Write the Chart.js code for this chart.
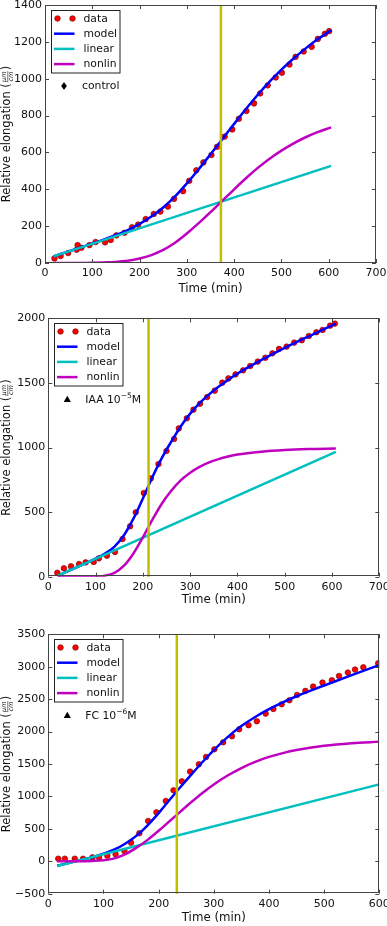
<!DOCTYPE html>
<html>
<head>
<meta charset="utf-8">
<script src="https://cdn.jsdelivr.net/npm/chart.js@4.4.1/dist/chart.umd.min.js"></script>
<style>
  body { margin: 0; background: #fff; }
  canvas { position: absolute; left: 0; }
</style>
</head>
<body>
<canvas id="chartControl" width="387" height="305" style="top:0px"></canvas>
<canvas id="chartIaa" width="387" height="310" style="top:305px"></canvas>
<canvas id="chartFc" width="387" height="311" style="top:615px"></canvas>
<script>
// ---- control ----
const controlTime = [20, 33, 49, 67, 69, 77, 94, 107, 127, 139, 151, 168, 184, 197, 213, 230, 244, 260, 273, 292,
  305, 320, 335, 352, 364, 380, 396, 410, 426, 442, 455, 471, 488, 501, 517, 530, 547, 564, 577, 592, 601];
const controlData = [25, 38, 54, 72, 97, 83, 97, 114, 112, 125, 150, 164, 194, 208, 238, 266, 279, 306, 348, 390,
  446, 503, 546, 586, 631, 686, 725, 783, 825, 866, 920, 964, 1007, 1032, 1077, 1119, 1148, 1173, 1216, 1244, 1258];
const controlCurveTime = [18, 50, 75, 100, 125, 150, 175, 200, 225, 250, 275, 300, 325, 350, 375, 400, 425, 450,
  475, 500, 525, 550, 575, 605];
const controlModel = [36, 63, 84, 106, 128, 152, 179, 212, 252, 301, 361, 432, 509, 590, 672, 755, 836, 913,
  984, 1049, 1108, 1162, 1211, 1263];
const controlNonlin = [0, 0, 0, 1, 3, 6, 12, 24, 43, 71, 110, 160, 216, 276, 338, 400, 460, 516,
  566, 610, 648, 681, 709, 736];
const controlLinearTime = [18, 605];
const controlLinear = [36, 527];
const controlMarkTime = 372;

// ---- IAA ----
const iaaTime = [19, 33, 48, 65, 79, 96, 107, 124, 141, 157, 173, 185, 202, 217, 233, 250, 266, 276, 293, 307,
  321, 336, 352, 368, 381, 396, 412, 427, 443, 459, 474, 488, 504, 520, 536, 551, 567, 580, 596, 606];
const iaaData = [31, 65, 80, 98, 111, 114, 142, 163, 191, 292, 390, 498, 648, 761, 872, 973, 1066, 1148, 1226, 1293,
  1339, 1391, 1440, 1502, 1535, 1566, 1597, 1631, 1665, 1695, 1729, 1763, 1781, 1812, 1830, 1863, 1892, 1910, 1943, 1959];
const iaaCurveTime = [20, 60, 100, 120, 140, 160, 180, 200, 220, 240, 260, 280, 300, 320, 340, 360, 380, 400,
  450, 500, 550, 608];
const iaaModel = [8, 73, 140, 179, 233, 321, 449, 606, 770, 918, 1045, 1163, 1262, 1343, 1411, 1470, 1523, 1572,
  1676, 1771, 1859, 1958];
const iaaNonlin = [0, 0, 2, 8, 30, 85, 180, 305, 440, 565, 665, 745, 805, 850, 885, 910, 930, 946,
  968, 981, 988, 992];
const iaaLinearTime = [20, 608];
const iaaLinear = [8, 966];
const iaaMarkTime = 212;

// ---- FC ----
const fcTime = [18, 30, 48, 63, 80, 92, 107, 122, 138, 150, 165, 181, 196, 213, 227, 242, 257, 273, 286, 301,
  317, 333, 346, 363, 378, 394, 408, 423, 437, 451, 466, 480, 497, 514, 527, 543, 556, 571, 598];
const fcData = [40, 40, 40, 40, 60, 60, 86, 107, 158, 287, 431, 621, 755, 930, 1095, 1234, 1383, 1496, 1609, 1727,
  1835, 1928, 2036, 2098, 2159, 2277, 2349, 2421, 2483, 2565, 2627, 2694, 2756, 2792, 2858, 2910, 2956, 2992, 3054];
const fcCurveTime = [16, 40, 65, 80, 100, 120, 140, 160, 180, 200, 220, 240, 260, 280, 300, 325, 350, 375, 400,
  425, 450, 500, 550, 600];
const fcModel = [-70, -20, 30, 62, 118, 182, 275, 395, 555, 742, 948, 1150, 1345, 1535, 1715, 1915, 2085, 2225, 2345,
  2450, 2545, 2710, 2870, 3025];
const fcNonlin = [0, 0, 2, 5, 15, 45, 110, 210, 330, 470, 620, 770, 918, 1058, 1185, 1322, 1438, 1533, 1609,
  1668, 1715, 1780, 1820, 1845];
const fcLinearTime = [16, 600];
const fcLinear = [-73, 1186];
const fcMarkTime = 233;

const FONT = 'DejaVu Sans';
const TEXT_COLOR = '#111';

function pairs(xs, ys) {
  return xs.map((x, i) => ({ x: x, y: ys[i] }));
}

// draw a text made of parts, some of them superscript
function drawRich(ctx, parts, x, y, size) {
  let cx = x;
  parts.forEach(p => {
    if (p.sup) {
      ctx.font = (size * 0.7) + 'px "' + FONT + '"';
      ctx.fillText(p.t, cx, y - size * 0.38);
    } else {
      ctx.font = size + 'px "' + FONT + '"';
      ctx.fillText(p.t, cx, y);
    }
    cx += ctx.measureText(p.t).width;
  });
}

// frame, inward ticks, yellow marker line, legends and y title
const decorPlugin = {
  id: 'decor',
  afterDatasetsDraw(chart, args, opts) {
    const ctx = chart.ctx;
    const a = chart.chartArea;
    const xs = chart.scales.x, ys = chart.scales.y;
    ctx.save();

    // vertical marker
    const mx = xs.getPixelForValue(opts.markTime);
    ctx.strokeStyle = '#bfbf00';
    ctx.lineWidth = 2.5;
    ctx.beginPath();
    ctx.moveTo(mx, a.top);
    ctx.lineTo(mx, a.bottom);
    ctx.stroke();

    // frame
    ctx.strokeStyle = '#444';
    ctx.lineWidth = 1;
    ctx.strokeRect(Math.round(a.left) + 0.5, Math.round(a.top) + 0.5,
      Math.round(a.right - a.left) - 1, Math.round(a.bottom - a.top) - 1);

    // ticks pointing inwards on all sides
    const tl = 4;
    ctx.beginPath();
    xs.ticks.forEach(t => {
      const px = Math.round(xs.getPixelForValue(t.value)) + 0.5;
      ctx.moveTo(px, a.bottom); ctx.lineTo(px, a.bottom - tl);
      ctx.moveTo(px, a.top); ctx.lineTo(px, a.top + tl);
    });
    ys.ticks.forEach(t => {
      const py = Math.round(ys.getPixelForValue(t.value)) + 0.5;
      ctx.moveTo(a.left, py); ctx.lineTo(a.left + tl, py);
      ctx.moveTo(a.right, py); ctx.lineTo(a.right - tl, py);
    });
    ctx.stroke();

    // legend box
    const bx = Math.round(a.left + 5.5) + 0.5, by = Math.round(a.top + 5) + 0.5;
    ctx.fillStyle = '#fff';
    ctx.fillRect(bx, by, 68.5, 62.5);
    ctx.strokeStyle = '#222';
    ctx.lineWidth = 1;
    ctx.strokeRect(bx, by, 68.5, 62.5);
    ctx.textBaseline = 'middle';
    ctx.textAlign = 'left';
    chart.data.datasets.forEach((ds, i) => {
      const cy = by + 8 + i * 15.2;
      if (ds.showLine) {
        ctx.strokeStyle = ds.borderColor;
        ctx.lineWidth = 2.5;
        ctx.beginPath();
        ctx.moveTo(bx + 2.5, cy);
        ctx.lineTo(bx + 23, cy);
        ctx.stroke();
      } else {
        ctx.fillStyle = ds.backgroundColor;
        ctx.strokeStyle = ds.borderColor;
        ctx.lineWidth = 0.6;
        [bx + 6, bx + 21].forEach(px => {
          ctx.beginPath();
          ctx.arc(px, cy, 2.8, 0, Math.PI * 2);
          ctx.fill();
          ctx.stroke();
        });
      }
      ctx.fillStyle = TEXT_COLOR;
      ctx.font = '10.8px "' + FONT + '"';
      ctx.fillText(ds.label, bx + 32, cy + 0.5);
    });

    // treatment label with its marker
    const tx = a.left + 19, ty = a.top + 81;
    ctx.fillStyle = '#000';
    ctx.beginPath();
    if (opts.marker === 'diamond') {
      ctx.moveTo(tx, ty - 4); ctx.lineTo(tx + 2.8, ty); ctx.lineTo(tx, ty + 4); ctx.lineTo(tx - 2.8, ty);
    } else {
      ctx.moveTo(tx, ty - 3.6); ctx.lineTo(tx + 3.6, ty + 2.8); ctx.lineTo(tx - 3.6, ty + 2.8);
    }
    ctx.closePath();
    ctx.fill();
    ctx.fillStyle = TEXT_COLOR;
    drawRich(ctx, opts.labelParts, a.left + 37, ty + 0.5, 10.8);

    // y title with fraction
    const cyT = (a.top + a.bottom) / 2;
    ctx.translate(7.5, cyT);
    ctx.rotate(-Math.PI / 2);
    ctx.textBaseline = 'middle';
    const main = 'Relative elongation ';
    ctx.font = '11.5px "' + FONT + '"';
    const wMain = ctx.measureText(main).width;
    const wPar = ctx.measureText('(').width;
    const fracW = 11;
    const total = wMain + wPar * 2 + fracW + 2;
    let x0 = -total / 2;
    ctx.fillText(main, x0, 0);
    x0 += wMain;
    ctx.fillText('(', x0, 0);
    x0 += wPar + 1;
    ctx.font = 'italic 6.5px "' + FONT + '"';
    ctx.textAlign = 'center';
    ctx.fillText('\u03bcm', x0 + fracW / 2, -3.6);
    ctx.fillText('cm', x0 + fracW / 2, 4.0);
    ctx.lineWidth = 0.6;
    ctx.strokeStyle = TEXT_COLOR;
    ctx.beginPath();
    ctx.moveTo(x0, 0.3);
    ctx.lineTo(x0 + fracW, 0.3);
    ctx.stroke();
    ctx.textAlign = 'left';
    ctx.font = '11.5px "' + FONT + '"';
    ctx.fillText(')', x0 + fracW + 1, 0);
    ctx.restore();
  }
};

function makeChart(id, cfg) {
  const canvas = document.getElementById(id);
  const titleLine = 11.8 * 1.2;
  const padBottom = canvas.height - cfg.titleCenter - titleLine / 2;
  const xHeight = canvas.height - padBottom - cfg.bottom;
  const tickFont = { family: FONT, size: 11 };
  return new Chart(canvas, {
    type: 'scatter',
    data: {
      datasets: [
        { label: 'data', data: pairs(cfg.time, cfg.data), showLine: false, pointRadius: 2.8,
          pointHoverRadius: 2.8, backgroundColor: '#ff0000', borderColor: '#6a0000', borderWidth: 0.6, order: 3 },
        { label: 'model', data: pairs(cfg.curveTime, cfg.model), showLine: true, fill: false,
          borderColor: '#0000ff', borderWidth: 2.5, pointRadius: 0, cubicInterpolationMode: 'monotone', order: 2 },
        { label: 'linear', data: pairs(cfg.linearTime, cfg.linear), showLine: true, fill: false,
          borderColor: '#00bfbf', borderWidth: 2.5, pointRadius: 0, order: 1 },
        { label: 'nonlin', data: pairs(cfg.curveTime, cfg.nonlin), showLine: true, fill: false,
          borderColor: '#bf00bf', borderWidth: 2.5, pointRadius: 0, cubicInterpolationMode: 'monotone', order: 0 }
      ]
    },
    options: {
      responsive: false,
      animation: false,
      devicePixelRatio: 1,
      layout: { padding: { top: cfg.top, right: cfg.rightPad, bottom: padBottom, left: 0 } },
      plugins: {
        legend: { display: false },
        tooltip: { enabled: false },
        decor: { markTime: cfg.markTime, marker: cfg.marker, labelParts: cfg.labelParts }
      },
      scales: {
        x: {
          type: 'linear', min: 0, max: cfg.xMax,
          ticks: { stepSize: 100, font: tickFont, color: TEXT_COLOR, padding: 4, maxRotation: 0 },
          grid: { display: false, drawTicks: false },
          border: { display: false },
          title: { display: true, text: 'Time (min)', font: { family: FONT, size: 11.8, lineHeight: 1.2 },
            color: TEXT_COLOR, padding: 0 },
          afterFit(s) { s.height = xHeight; s.paddingLeft = 0; s.paddingRight = 0; }
        },
        y: {
          type: 'linear', min: cfg.yMin, max: cfg.yMax,
          ticks: { stepSize: cfg.yStep, font: tickFont, color: TEXT_COLOR, padding: 3,
            callback: v => String(v).replace('-', '\u2212') },
          grid: { display: false, drawTicks: false },
          border: { display: false },
          afterFit(s) { s.width = cfg.left; s.paddingTop = 0; s.paddingBottom = 0; }
        }
      }
    },
    plugins: [decorPlugin]
  });
}

makeChart('chartControl', {
  time: controlTime, data: controlData, curveTime: controlCurveTime, model: controlModel, nonlin: controlNonlin,
  linearTime: controlLinearTime, linear: controlLinear, markTime: controlMarkTime,
  marker: 'diamond', labelParts: [{ t: 'control' }],
  xMax: 700, yMin: 0, yMax: 1400, yStep: 200,
  top: 5, bottom: 263, left: 45, rightPad: 11, titleCenter: 289
});

makeChart('chartIaa', {
  time: iaaTime, data: iaaData, curveTime: iaaCurveTime, model: iaaModel, nonlin: iaaNonlin,
  linearTime: iaaLinearTime, linear: iaaLinear, markTime: iaaMarkTime,
  marker: 'triangle', labelParts: [{ t: 'IAA 10' }, { t: '\u22125', sup: true }, { t: 'M' }],
  xMax: 700, yMin: 0, yMax: 2000, yStep: 500,
  top: 13.3, bottom: 271.7, left: 48.3, rightPad: 7.7, titleCenter: 295
});

makeChart('chartFc', {
  time: fcTime, data: fcData, curveTime: fcCurveTime, model: fcModel, nonlin: fcNonlin,
  linearTime: fcLinearTime, linear: fcLinear, markTime: fcMarkTime,
  marker: 'triangle', labelParts: [{ t: 'FC 10' }, { t: '\u22126', sup: true }, { t: 'M' }],
  xMax: 600, yMin: -500, yMax: 3500, yStep: 500,
  top: 19.3, bottom: 278.7, left: 48.3, rightPad: 7.7, titleCenter: 303.3
});
</script>
</body>
</html>
